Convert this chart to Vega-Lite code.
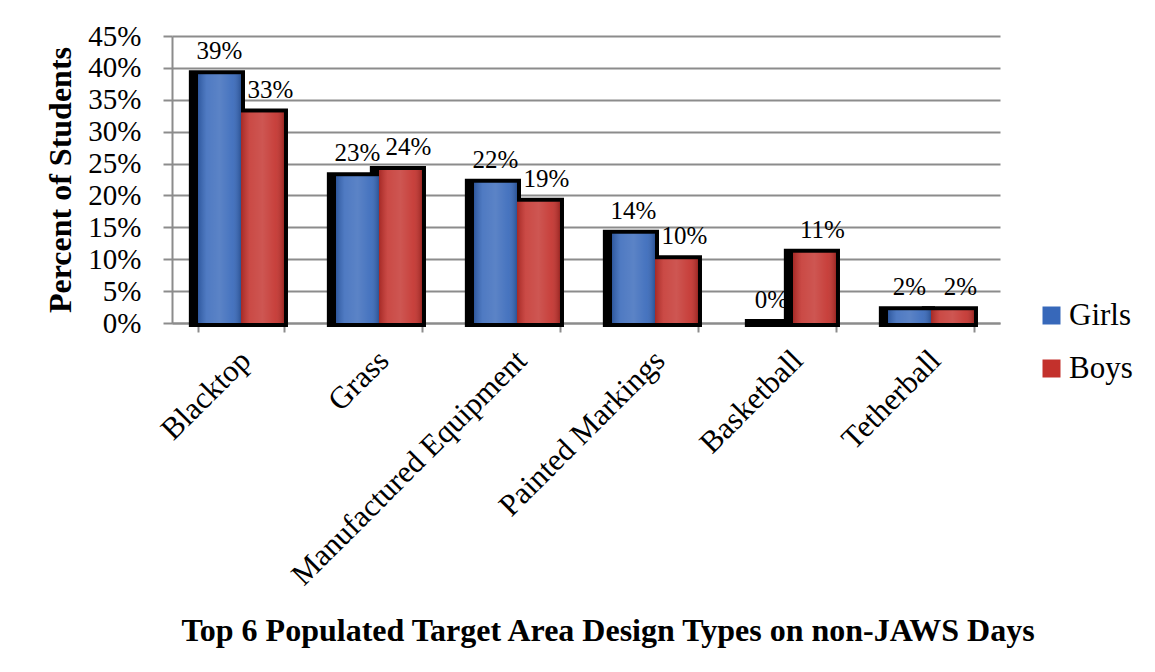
{
  "$schema": "https://vega.github.io/schema/vega-lite/v6.json",
  "width": 828,
  "height": 287,
  "autosize": {"type": "none"},
  "padding": {"left": 172, "top": 36, "right": 155, "bottom": 349},
  "background": "white",
  "title": {
    "text": "Top 6 Populated Target Area Design Types on non-JAWS Days",
    "orient": "bottom",
    "anchor": "middle",
    "frame": "group",
    "dx": 22,
    "offset": 25,
    "font": "Liberation Serif, Times New Roman, serif",
    "fontSize": 32,
    "fontWeight": "bold",
    "color": "black"
  },
  "data": {
    "values": [
      {"area": "Blacktop", "group": "Girls", "pct": 0.39},
      {"area": "Blacktop", "group": "Boys", "pct": 0.33},
      {"area": "Grass", "group": "Girls", "pct": 0.23},
      {"area": "Grass", "group": "Boys", "pct": 0.24},
      {"area": "Manufactured Equipment", "group": "Girls", "pct": 0.22},
      {"area": "Manufactured Equipment", "group": "Boys", "pct": 0.19},
      {"area": "Painted Markings", "group": "Girls", "pct": 0.14},
      {"area": "Painted Markings", "group": "Boys", "pct": 0.10},
      {"area": "Basketball", "group": "Girls", "pct": 0.0},
      {"area": "Basketball", "group": "Boys", "pct": 0.11},
      {"area": "Tetherball", "group": "Girls", "pct": 0.02},
      {"area": "Tetherball", "group": "Boys", "pct": 0.02}
    ]
  },
  "encoding": {
    "x": {
      "field": "area",
      "type": "nominal",
      "sort": null,
      "scale": {"paddingInner": 0.377, "paddingOuter": 0.1885},
      "axis": {
        "title": null,
        "labelAngle": -45,
        "labelFont": "Liberation Serif, Times New Roman, serif",
        "labelFontSize": 31,
        "labelColor": "black",
        "labelPadding": 13,
        "labelOffset": -6,
        "labelLimit": 500,
        "tickBand": "extent",
        "tickSize": 9,
        "tickColor": "#8c8c8c",
        "tickWidth": 2,
        "domainColor": "#8c8c8c",
        "domainWidth": 2,
        "grid": false
      }
    },
    "xOffset": {"field": "group", "type": "nominal", "sort": ["Girls", "Boys"]},
    "y": {
      "field": "pct",
      "type": "quantitative",
      "scale": {"domain": [0, 0.45], "nice": false},
      "axis": {
        "title": "Percent of Students",
        "titleFont": "Liberation Serif, Times New Roman, serif",
        "titleFontSize": 32,
        "titleFontWeight": "bold",
        "titleColor": "black",
        "titlePadding": 10,
        "values": [0, 0.05, 0.1, 0.15, 0.2, 0.25, 0.3, 0.35, 0.4, 0.45],
        "format": ".0%",
        "labelFont": "Liberation Serif, Times New Roman, serif",
        "labelFontSize": 29,
        "labelColor": "black",
        "labelPadding": 22,
        "tickSize": 9,
        "tickColor": "#8c8c8c",
        "tickWidth": 2,
        "domainColor": "#8c8c8c",
        "domainWidth": 2,
        "grid": true,
        "gridColor": "#8c8c8c",
        "gridWidth": 2
      }
    }
  },
  "layer": [
    {
      "mark": {"type": "bar", "fill": "black", "stroke": "black", "strokeWidth": 8, "width": {"band": 1.12}},
      "encoding": {}
    },
    {
      "mark": {"type": "bar"},
      "encoding": {
        "color": {
          "field": "group",
          "type": "nominal",
          "sort": ["Girls", "Boys"],
          "scale": {"domain": ["Girls", "Boys"], "range": ["#3768ba", "#c3312c"]},
          "legend": {
            "title": null,
            "orient": "none",
            "legendX": 864,
            "legendY": 264,
            "symbolType": "square",
            "symbolSize": 324,
            "symbolStrokeWidth": 0,
            "labelFont": "Liberation Serif, Times New Roman, serif",
            "labelFontSize": 31,
            "labelColor": "black",
            "labelOffset": 2,
            "rowPadding": 21
          }
        }
      }
    },
    {
      "mark": {
        "type": "bar",
        "fill": {
          "gradient": "linear",
          "x1": 0, "x2": 1, "y1": 0, "y2": 0,
          "stops": [
            {"offset": 0, "color": "rgba(0,0,0,0.15)"},
            {"offset": 0.2, "color": "rgba(255,255,255,0.12)"},
            {"offset": 0.5, "color": "rgba(255,255,255,0.18)"},
            {"offset": 0.8, "color": "rgba(255,255,255,0.08)"},
            {"offset": 1, "color": "rgba(0,0,0,0.2)"}
          ]
        }
      },
      "encoding": {}
    },
    {
      "transform": [{"filter": "datum.group === 'Girls'"}],
      "mark": {"type": "text", "font": "Liberation Serif, Times New Roman, serif", "fontSize": 25, "color": "black", "baseline": "alphabetic", "dy": -15},
      "encoding": {"text": {"field": "pct", "format": ".0%"}}
    },
    {
      "transform": [{"filter": "datum.group === 'Boys'"}],
      "mark": {"type": "text", "font": "Liberation Serif, Times New Roman, serif", "fontSize": 25, "color": "black", "baseline": "alphabetic", "dy": -15, "dx": 8},
      "encoding": {"text": {"field": "pct", "format": ".0%"}}
    }
  ],
  "config": {"view": {"stroke": null}}
}
